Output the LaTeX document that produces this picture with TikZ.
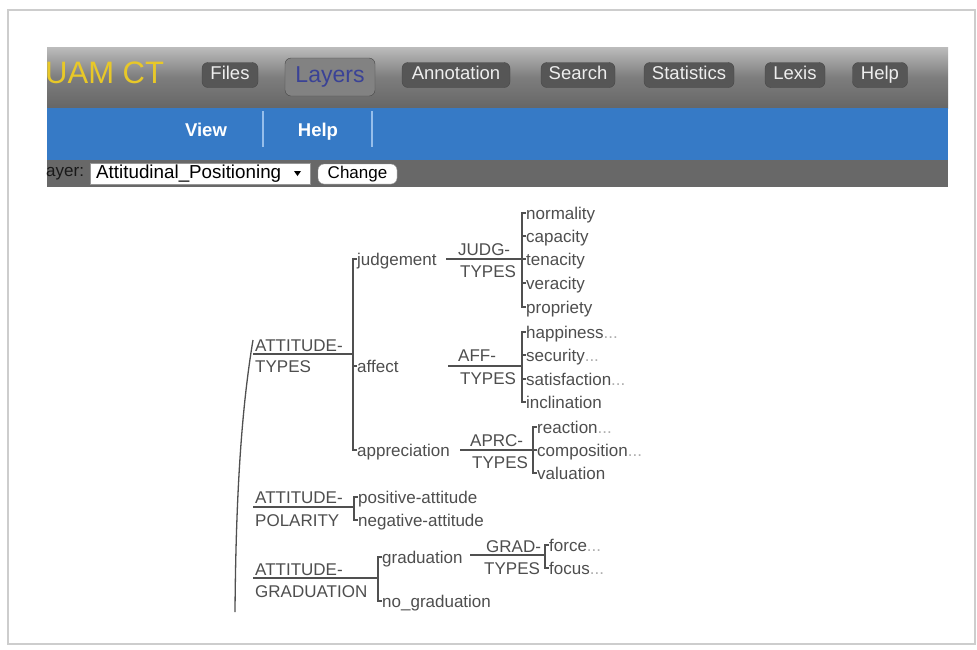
\documentclass[tikz,border=0pt]{standalone}
\usepackage{fontspec}
\setmainfont{Liberation Sans}
\definecolor{barTop}{RGB}{188,188,188}
\definecolor{barMid}{RGB}{125,125,125}
\definecolor{barBot}{RGB}{102,102,102}
\definecolor{blueBar}{RGB}{54,122,198}
\definecolor{sepBlue}{RGB}{150,190,235}
\definecolor{grayBar}{RGB}{104,104,104}
\definecolor{btnFill}{RGB}{86,86,86}
\definecolor{btnText}{RGB}{238,238,238}
\definecolor{layersFill}{RGB}{130,130,130}
\definecolor{layersText}{RGB}{58,66,150}
\definecolor{uamYellow}{RGB}{232,200,40}
\definecolor{treeText}{RGB}{78,78,78}
\definecolor{treeLine}{RGB}{80,80,80}
\definecolor{frameGray}{RGB}{205,205,205}
\definecolor{dotGray}{RGB}{175,175,175}
\tikzset{
  menubtn/.style={rounded corners=6pt, fill=btnFill, draw={rgb,255:red,70;green,70;blue,70}, text=btnText,
    font=\fontsize{18.5}{18.5}\selectfont, minimum height=25pt, inner sep=0pt,
    text height=13pt, text depth=4pt},
  submenu/.style={text=white, font=\fontsize{18.5}{18.5}\bfseries\selectfont, inner sep=0pt,
    text height=13pt, text depth=4pt},
  lbl/.style={font=\fontsize{17}{17}\selectfont, text=treeText, inner sep=0pt,
    text height=12.5pt, text depth=0.5pt, anchor=west},
  ln/.style={draw=treeLine, line width=1.1pt},
}
\newcommand{\dotsgray}{\textcolor{dotGray}{...}}
\begin{document}
\begin{tikzpicture}[x=1pt,y=-1pt]
\useasboundingbox (0,0) rectangle (977,649);
\fill[white] (0,0) rectangle (977,649);
\draw[frameGray, line width=1.5pt] (8,10) rectangle (975,644);

% ---- top menu bar
\shade[top color=barTop, bottom color=barBot, middle color=barMid] (47,47) rectangle (948,108);
\fill[blueBar] (47,108) rectangle (948,160);
\fill[grayBar] (47,160) rectangle (948,187);

\node[anchor=west, font=\fontsize{31}{31}\selectfont, text=uamYellow, inner sep=0pt] (uam) at (45,73) {UAM CT};

\node[menubtn, minimum width=56pt] (files) at (230,75) {Files};
\node[menubtn, minimum width=90pt, minimum height=38pt, fill=layersFill, text=layersText,
      font=\fontsize{23}{23}\selectfont, text height=16pt, text depth=5pt] (layers) at (330,77) {Layers};
\node[menubtn, minimum width=108pt] (annot) at (456,75) {Annotation};
\node[menubtn, minimum width=74pt] (search) at (578,75) {Search};
\node[menubtn, minimum width=90pt] (stats) at (689,75) {Statistics};
\node[menubtn, minimum width=60pt] (lexis) at (795,75) {Lexis};
\node[menubtn, minimum width=55pt] (helpm) at (880,75) {Help};

% ---- blue sub menu
\node[submenu] (view) at (206,132) {View};
\node[submenu] (helps) at (318,132) {Help};
\coordinate (s1a) at (263,111); \coordinate (s1b) at (263,147);
\coordinate (s2a) at (372,111); \coordinate (s2b) at (372,147);
\draw[sepBlue, line width=1.2pt] (s1a) -- (s1b);
\draw[sepBlue, line width=1.2pt] (s2a) -- (s2b);

% ---- layer selector
\node[anchor=west, inner sep=0pt, text={rgb,255:red,25;green,25;blue,25}, font=\fontsize{17}{17}\selectfont] (layerlbl) at (46,174) {ayer:};
\node[anchor=west, draw={rgb,255:red,150;green,150;blue,150}, fill=white, inner sep=0pt,
      minimum width=220pt, minimum height=21pt] (select) at (90,174) {};
\node[anchor=west, inner sep=0pt, font=\fontsize{18.8}{18.8}\selectfont] (selecttxt) at (96,174) {Attitudinal\_Positioning};
\fill[black] (294,171) -- (301,171) -- (297.5,176) -- cycle;
\node[draw={rgb,255:red,150;green,150;blue,150}, fill=white, rounded corners=6pt, inner sep=0pt,
      minimum width=79pt, minimum height=20pt, font=\fontsize{17}{17}\selectfont] (change) at (357.5,174) {Change};

% ---- main bracket
\coordinate (mtop) at (253,340);
\coordinate (mbot) at (235,612);
\draw[ln, line width=1.3pt] (mtop) .. controls (243,400) and (236,480) .. (mbot);

% ---- ATTITUDE-TYPES
\node[lbl] (attA) at (255,345) {ATTITUDE-};
\node[lbl] (attB) at (255,366) {TYPES};
\coordinate (att0) at (253,354);
\coordinate (att1) at (353,354);
\draw[ln] (att0) -- (att1);

\node[lbl] (judgement) at (357,259) {judgement};
\node[lbl] (affect) at (357,366) {affect};
\node[lbl] (appreciation) at (357,450) {appreciation};
\draw[ln] (judgement.west) -- ++(-4,0) |- (appreciation.west);
\draw[ln] (affect.west) -- ++(-4,0);

% JUDG-TYPES
\node[lbl] (judgA) at (458,249) {JUDG-};
\node[lbl] (judgB) at (460,271) {TYPES};
\coordinate (judg0) at (446,259);
\coordinate (judg1) at (522,259);
\draw[ln] (judg0) -- (judg1);
\node[lbl] (normality) at (526,213) {normality};
\node[lbl] (capacity) at (526,236) {capacity};
\node[lbl] (tenacity) at (526,259) {tenacity};
\node[lbl] (veracity) at (526,283) {veracity};
\node[lbl] (propriety) at (526,307) {propriety};
\draw[ln] (normality.west) -- ++(-4,0) |- (propriety.west);
\foreach \n in {capacity,tenacity,veracity} \draw[ln] (\n.west) -- ++(-4,0);

% AFF-TYPES
\node[lbl] (affA) at (458,355) {AFF-};
\node[lbl] (affB) at (460,378) {TYPES};
\coordinate (aff0) at (448,366);
\coordinate (aff1) at (522,366);
\draw[ln] (aff0) -- (aff1);
\node[lbl] (happiness) at (526,332) {happiness\dotsgray};
\node[lbl] (security) at (526,355) {security\dotsgray};
\node[lbl] (satisfaction) at (526,379) {satisfaction\dotsgray};
\node[lbl] (inclination) at (526,402) {inclination};
\draw[ln] (happiness.west) -- ++(-4,0) |- (inclination.west);
\foreach \n in {security,satisfaction} \draw[ln] (\n.west) -- ++(-4,0);

% APRC-TYPES
\node[lbl] (aprcA) at (470,440) {APRC-};
\node[lbl] (aprcB) at (472,462) {TYPES};
\coordinate (aprc0) at (460,450);
\coordinate (aprc1) at (533,450);
\draw[ln] (aprc0) -- (aprc1);
\node[lbl] (reaction) at (537,427) {reaction\dotsgray};
\node[lbl] (composition) at (537,450) {composition\dotsgray};
\node[lbl] (valuation) at (537,473) {valuation};
\draw[ln] (reaction.west) -- ++(-4,0) |- (valuation.west);
\draw[ln] (composition.west) -- ++(-4,0);

% ---- ATTITUDE-POLARITY
\node[lbl] (polA) at (255,497) {ATTITUDE-};
\node[lbl] (polB) at (255,520) {POLARITY};
\coordinate (pol0) at (253,507);
\coordinate (pol1) at (354,507);
\draw[ln] (pol0) -- (pol1);
\node[lbl] (positive) at (358,497) {positive-attitude};
\node[lbl] (negative) at (358,520) {negative-attitude};
\draw[ln] (positive.west) -- ++(-4,0) |- (negative.west);

% ---- ATTITUDE-GRADUATION
\node[lbl] (gradA) at (255,569) {ATTITUDE-};
\node[lbl] (gradB) at (255,591) {GRADUATION};
\coordinate (gr0) at (253,578);
\coordinate (gr1) at (378,578);
\draw[ln] (gr0) -- (gr1);
\node[lbl] (graduation) at (382,557) {graduation};
\node[lbl] (nograd) at (382,601) {no\_graduation};
\draw[ln] (graduation.west) -- ++(-4,0) |- (nograd.west);

\node[lbl] (gtA) at (486,546) {GRAD-};
\node[lbl] (gtB) at (484,568) {TYPES};
\coordinate (gt0) at (470,555);
\coordinate (gt1) at (545,555);
\draw[ln] (gt0) -- (gt1);
\node[lbl] (force) at (549,545) {force\dotsgray};
\node[lbl] (focus) at (549,568) {focus\dotsgray};
\draw[ln] (force.west) -- ++(-4,0) |- (focus.west);
\end{tikzpicture}
\end{document}
